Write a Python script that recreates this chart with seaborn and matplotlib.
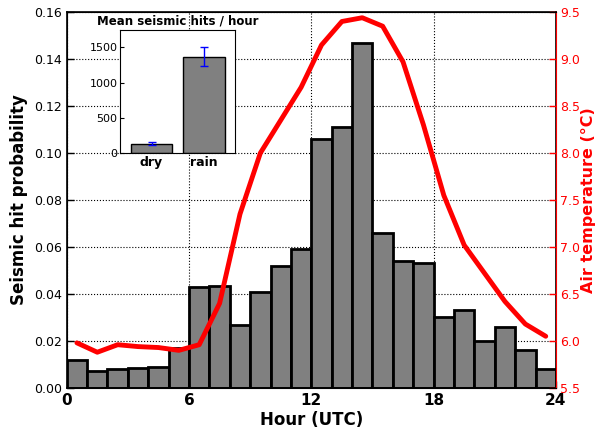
import numpy as np
import matplotlib
matplotlib.use("Agg")
import matplotlib.pyplot as plt
import pandas as pd
import seaborn as sns

hours = np.arange(24)
hit_prob = [0.012, 0.007, 0.008, 0.0085, 0.009, 0.017, 0.043, 0.0435, 0.027, 0.041,
            0.052, 0.059, 0.106, 0.111, 0.147, 0.066, 0.054, 0.053, 0.030, 0.033,
            0.020, 0.026, 0.016, 0.008]
temp = [5.98, 5.88, 5.96, 5.94, 5.93, 5.90, 5.96, 6.40, 7.35, 8.00, 8.35, 8.70,
        9.15, 9.40, 9.44, 9.35, 8.97, 8.30, 7.55, 7.02, 6.72, 6.42, 6.18, 6.05]
cond = ["dry", "rain"]
mean_hits = [130, 1370]
err_hits = [20, 130]

sns.set_style("ticks")
plt.rcParams["font.family"] = ["DejaVu Sans"]
plt.rcParams["text.color"] = "black"
plt.rcParams["axes.labelcolor"] = "black"
plt.rcParams["xtick.color"] = "black"
plt.rcParams["ytick.color"] = "black"
plt.rcParams["axes.edgecolor"] = "black"

fig = plt.figure(figsize=(6.01, 4.32), dpi=100)
ax = fig.add_axes([0.111, 0.102, 0.814, 0.870])
ax.bar(hours + 0.5, hit_prob, width=1.0, color="gray", edgecolor="black", linewidth=2, zorder=2)
ax.set_xlim(0, 24)
ax.set_ylim(0, 0.16)
ax.set_xticks([0, 6, 12, 18, 24])
yt = np.arange(0, 0.161, 0.02)
ax.set_yticks(yt)
ax.set_yticklabels([f"{v:.2f}" for v in yt], fontsize=9)
ax.set_xticklabels(["0", "6", "12", "18", "24"], fontsize=11, fontweight="bold")
ax.grid(True, color="black", linestyle=":", linewidth=0.8, zorder=0)
ax.set_axisbelow(True)
ax.set_xlabel("Hour (UTC)", fontsize=12, fontweight="bold", labelpad=2)
ax.set_ylabel("Seismic hit probability", fontsize=12, fontweight="bold")
for s in ax.spines.values():
    s.set_linewidth(1.2)
ax.tick_params(direction="in", width=1, length=5)

ax2 = ax.twinx()
ax2.plot(hours + 0.5, temp, color="red", linewidth=3.5)
ax2.set_ylim(5.5, 9.5)
t2 = np.arange(5.5, 9.51, 0.5)
ax2.set_yticks(t2)
ax2.set_yticklabels([f"{v:.1f}" for v in t2], color="red", fontsize=9)
ax2.tick_params(direction="in", colors="red", width=1, length=5, pad=3)
ax2.spines["right"].set_color("red")
ax2.set_ylabel("Air temperature (°C)", color="red", fontsize=11.5, fontweight="bold", labelpad=1)

ins = fig.add_axes([0.200, 0.646, 0.191, 0.285])
ins.bar([0, 1], mean_hits, width=0.8, color="gray", edgecolor="black", linewidth=1)
ins.errorbar([0, 1], mean_hits, yerr=err_hits, fmt="none", ecolor="blue", capsize=3, elinewidth=1)
ins.set_xticks([0, 1])
ins.set_xticklabels(cond, fontweight="bold", fontsize=9)
ins.set_xlim(-0.6, 1.6)
ins.set_ylim(0, 1750)
ins.set_yticks([0, 500, 1000, 1500])
ins.set_yticklabels(["0", "500", "1000", "1500"], fontsize=8)
ins.tick_params(direction="in", length=3, pad=2)
ins.set_title("Mean seismic hits / hour", fontsize=8.5, fontweight="bold", pad=4)

fig.savefig("out.png", dpi=100)
